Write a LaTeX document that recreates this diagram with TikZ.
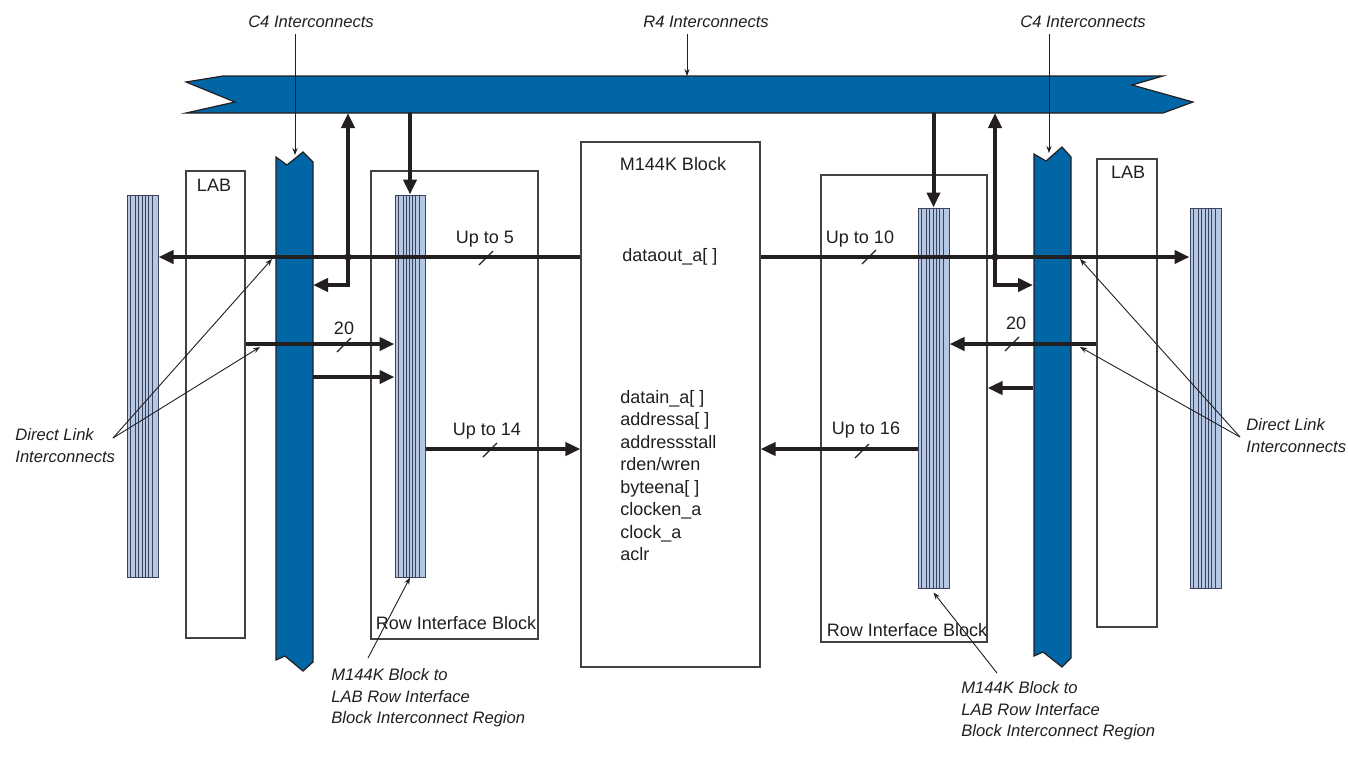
\documentclass[tikz,border=0pt]{standalone}
\usepackage{fontspec}
\setmainfont{Liberation Sans}
\usetikzlibrary{arrows.meta,fit,calc}
\definecolor{busblue}{RGB}{0,102,166}
\definecolor{stripefill}{RGB}{180,200,230}
\definecolor{stripeline}{RGB}{62,66,88}
\definecolor{ink}{RGB}{35,31,32}
\begin{document}
\begin{tikzpicture}[x=0.5pt,y=-0.5pt,
  box/.style={draw=ink!85,line width=0.55pt,inner sep=0pt,fill=white},
  stripecol/.style={draw=stripeline,fill=stripefill,line width=0.5pt,inner sep=0pt},
  busshape/.style={fill=busblue,draw=ink,line width=0.6pt,line join=miter},
  wire/.style={draw=ink,line width=2pt},
  warrow/.style={wire,-{Triangle[length=7.5pt,width=6.5pt]}},
  pointer/.style={draw=ink,line width=0.45pt,-{Stealth[length=3.5pt,width=2.6pt]}},
  buswidth/.style={draw=ink,line width=0.6pt},
  lbl/.style={inner sep=0pt,font=\fontsize{9}{11}\selectfont,text=ink},
  note/.style={inner sep=0pt,font=\fontsize{8.3}{10.8}\selectfont\itshape,text=ink,align=left},
]
\useasboundingbox (0,0) rectangle (1348,757);
\fill[white] (0,0) rectangle (1348,757);

% boxes
\node[box,fit={(186,171)(245,638)}] (labL) {};
\node[box,fit={(1097,159)(1157,627)}] (labR) {};
\node[box,fit={(371,171)(538,639)}] (ribL) {};
\node[box,fit={(821,175)(987,642)}] (ribR) {};
\node[box,fit={(581,142)(760,667)}] (mk) {};

% striped interconnect regions
\node[stripecol,fit={(127,195)(158,577)}] (stL) {};
\node[stripecol,fit={(395,195)(425,577)}] (stA) {};
\node[stripecol,fit={(918,208)(949,588)}] (stB) {};
\node[stripecol,fit={(1190,208)(1221,588)}] (stR) {};
\foreach \n in {stL,stA,stB,stR}
  \foreach \f in {0.14,0.28,0.39,0.49,0.59,0.69,0.82}
    \draw[stripeline,line width=0.5pt] ($(\n.north west)!\f!(\n.north east)$) -- ($(\n.south west)!\f!(\n.south east)$);

% C4 and R4 interconnects
\draw[busshape] (276,157) -- (287,165) -- (303,152) -- (313,162) -- (313,662) -- (303,671) -- (285,656) -- (276,660) -- cycle;
\draw[busshape] (1034,154) -- (1046,161) -- (1062,147) -- (1071,157) -- (1071,658) -- (1062,667) -- (1043,652) -- (1034,656) -- cycle;
\draw[busshape] (223,76) -- (1163,76) -- (1132,85) -- (1193,102) -- (1163,113) -- (186,113) -- (235,102) -- (186,82) -- cycle;

\coordinate (r4bot) at (0,113);
\coordinate (r4top) at (687,76);
\coordinate (jL) at (348,257);
\coordinate (jR) at (995,257);
\coordinate (c4Le) at (313,0);
\coordinate (c4Rw) at (1033,0);
\coordinate (c4Ltop) at (295,155);
\coordinate (c4Rtop) at (1049,153);

% thick connectors
\draw[warrow] (mk.west |- jL) -- (stL.east |- jL);
\draw[warrow] (jL) -- (jL |- r4bot);
\draw[warrow] (jL) -- (jL |- 0,285) -- (c4Le |- 0,285);
\draw[warrow] (stA.north |- r4bot) -- (stA.north);
\draw[warrow] (stB.north |- r4bot) -- (stB.north);
\draw[warrow] (mk.east |- jR) -- (stR.west |- jR);
\draw[warrow] (jR) -- (jR |- r4bot);
\draw[warrow] (jR) -- (jR |- 0,285) -- (c4Rw |- 0,285);
\draw[warrow] (labL.east |- 0,344) -- (stA.west |- 0,344);
\draw[warrow] (c4Le |- 0,377) -- (stA.west |- 0,377);
\draw[warrow] (labR.west |- 0,344) -- (stB.east |- 0,344);
\draw[warrow] (c4Rw |- 0,388) -- (ribR.east |- 0,388);
\draw[warrow] (stA.east |- 0,449) -- (mk.west |- 0,449);
\draw[warrow] (stB.west |- 0,449) -- (mk.east |- 0,449);
\fill[ink] (jL) circle (1.8pt);
\fill[ink] (jR) circle (1.8pt);

% bus-width slashes
\foreach \p in {(486,258),(869,257),(344,345),(1012,344),(490,450),(862,451)}
  \draw[buswidth] \p ++(-7,7) -- ++(14,-14);

% texts
\node[lbl] (tLabL) at (214,185) {LAB};
\node[lbl] (tLabR) at (1128,172) {LAB};
\node[lbl] (tMk) at (673,164) {M144K Block};
\node[lbl,anchor=base west] (tOut) at (622,261) {dataout\_a[ ]};
\foreach \t [count=\i] in {datain\_a[ ],addressa[ ],addressstall,rden/wren,byteena[ ],clocken\_a,clock\_a,aclr}
  \node[lbl,anchor=base west] (tin\i) at (620,{403+22.5*(\i-1)}) {\t};
\node[lbl,anchor=base] (tRibL) at (456,629) {Row Interface Block};
\node[lbl,anchor=base] (tRibR) at (907,636) {Row Interface Block};
\node[lbl,anchor=base] (tU5) at (485,243) {Up to 5};
\node[lbl,anchor=base] (tU10) at (860,243) {Up to 10};
\node[lbl,anchor=base] (tU14) at (487,435) {Up to 14};
\node[lbl,anchor=base] (tU16) at (866,434) {Up to 16};
\node[lbl,anchor=base] (t20L) at (344,334) {20};
\node[lbl,anchor=base] (t20R) at (1016,329) {20};

\node[note] (tC4L) at (311,22) {C4 Interconnects};
\node[note] (tR4) at (706,22) {R4 Interconnects};
\node[note] (tC4R) at (1083,22) {C4 Interconnects};
\draw[pointer] ($(tC4L.south -| c4Ltop)+(0,6)$) -- (c4Ltop);
\draw[pointer] ($(tR4.south -| r4top)+(0,6)$) -- (r4top);
\draw[pointer] ($(tC4R.south -| c4Rtop)+(0,6)$) -- (c4Rtop);

\node[note,anchor=north west] (dlL) at (15,428) {Direct Link\\Interconnects};
\node[note,anchor=north west] (dlR) at (1246,418) {Direct Link\\Interconnects};
\coordinate (dlLo) at (113,438);
\coordinate (dlRo) at (1240,437);
\draw[pointer] (dlLo) -- (272,259);
\draw[pointer] (dlLo) -- (260,347);
\draw[pointer] (dlRo) -- (1080,259);
\draw[pointer] (dlRo) -- (1080,347);

\node[note,anchor=north west] (nL) at (331,668) {M144K Block to\\LAB Row Interface\\Block Interconnect Region};
\node[note,anchor=north west] (nR) at (961,681) {M144K Block to\\LAB Row Interface\\Block Interconnect Region};
\coordinate (nLo) at (368,658);
\coordinate (nRo) at (997,673);
\draw[pointer] (nLo) -- (stA.south);
\draw[pointer] (nRo) -- ($(stB.south)+(0,4)$);
\end{tikzpicture}
\end{document}
